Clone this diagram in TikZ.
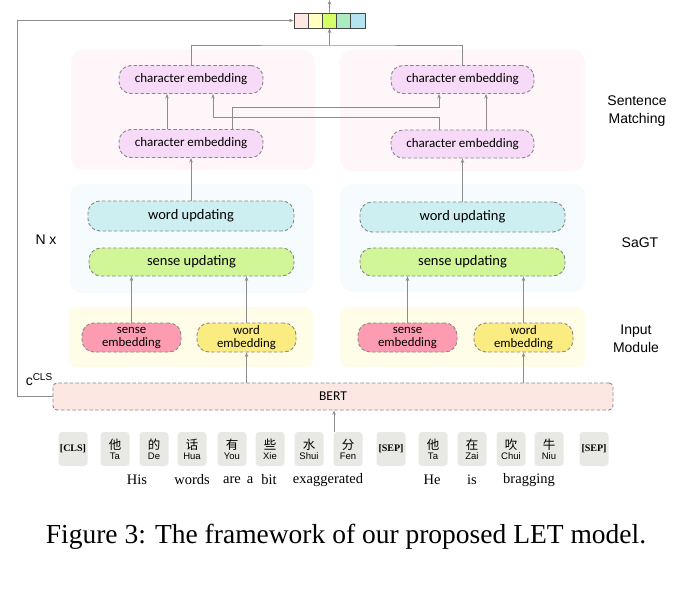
\documentclass[tikz,border=0pt]{standalone}
\usepackage{fontspec}
\setmainfont{Liberation Serif}
\newfontfamily\cjk{Noto Sans CJK SC}
\newfontfamily\calib{Carlito}
\newfontfamily\helv{Liberation Sans}
\usetikzlibrary{arrows.meta}

\definecolor{linegray}{RGB}{140,140,140}
\definecolor{dashgray}{RGB}{135,135,135}
\definecolor{vecgray}{RGB}{70,70,70}
\definecolor{charpink}{RGB}{247,218,247}
\definecolor{wordcyan}{RGB}{206,239,242}
\definecolor{senselime}{RGB}{208,246,152}
\definecolor{sensepink}{RGB}{253,156,176}
\definecolor{wordyellow}{RGB}{250,236,128}
\definecolor{bertpink}{RGB}{253,231,226}
\definecolor{tokgray}{RGB}{232,232,229}
\definecolor{smbg}{RGB}{254,246,248}
\definecolor{sagtbg}{RGB}{246,251,253}
\definecolor{inbg}{RGB}{255,253,232}
\definecolor{cellyellow}{RGB}{255,255,192}
\definecolor{celllime}{RGB}{212,255,102}
\definecolor{cellgreen}{RGB}{170,236,192}
\definecolor{cellcyan}{RGB}{180,228,240}

\begin{document}
\begin{tikzpicture}[x=1pt,y=-1pt,
  emb/.style={draw=dashgray, dash pattern=on 3.5pt off 2.2pt, line width=0.9pt,
    rounded corners=12pt, inner sep=0pt, minimum height=28pt, align=center,
    font=\calib\fontsize{13}{13.5}\selectfont},
  conn/.style={draw=linegray, line width=0.9pt, -{Stealth[length=4.5pt,width=3.5pt]}},
  plain/.style={draw=linegray, line width=0.9pt},
  cell/.style={draw=vecgray, line width=0.9pt, minimum width=14.2pt, minimum height=15pt, inner sep=0pt},
  tok/.style={fill=tokgray, rounded corners=3.5pt, minimum width=29pt, minimum height=34pt,
    inner sep=0pt, align=center},
  side/.style={font=\helv\fontsize{14}{18}\selectfont, align=center},
  eng/.style={font=\fontsize{14.5}{16}\selectfont}]
\useasboundingbox (0,0) rectangle (700,607);

% backgrounds
\fill[smbg, rounded corners=12pt] (71,50) rectangle (315,170);
\fill[smbg, rounded corners=12pt] (340,50) rectangle (585,171);
\fill[sagtbg, rounded corners=12pt] (70,184) rectangle (313,293);
\fill[sagtbg, rounded corners=12pt] (340,184) rectangle (585,292);
\fill[inbg, rounded corners=8pt] (69,307) rectangle (313,367);
\fill[inbg, rounded corners=8pt] (340,307) rectangle (585,367);

% output vector
\foreach \i/\col in {1/bertpink, 2/cellyellow, 3/celllime, 4/cellgreen, 5/cellcyan}
  \node[cell, fill=\col] (v\i) at (286.9+14.2*\i,20.5) {};
\coordinate (out) at (329.5,0);

% sentence matching
\node[emb, fill=charpink, minimum width=144pt] (charL2) at (191,79.5) {character embedding};
\node[emb, fill=charpink, minimum width=144pt] (charL1) at (191,143.5) {character embedding};
\node[emb, fill=charpink, minimum width=143pt] (charR2) at (462.5,79.5) {character embedding};
\node[emb, fill=charpink, minimum width=143pt] (charR1) at (462.5,144) {character embedding};

% SaGT
\node[emb, fill=wordcyan, minimum width=206pt, minimum height=30pt, font=\calib\fontsize{14.5}{15}\selectfont] (wordL) at (191,216) {word updating};
\node[emb, fill=wordcyan, minimum width=205pt, minimum height=30pt, font=\calib\fontsize{14.5}{15}\selectfont] (wordR) at (462.5,217) {word updating};
\node[emb, fill=senselime, minimum width=205pt, font=\calib\fontsize{14.5}{15}\selectfont] (senseL) at (191.5,262) {sense updating};
\node[emb, fill=senselime, minimum width=205pt, font=\calib\fontsize{14.5}{15}\selectfont] (senseR) at (462.5,262) {sense updating};

% input module
\node[emb, fill=sensepink, minimum width=99pt, minimum height=29pt, font=\calib\fontsize{12.8}{13}\selectfont] (sembL) at (131.5,337.5) {sense\\embedding};
\node[emb, fill=wordyellow, minimum width=99pt, minimum height=29pt, font=\calib\fontsize{12.8}{13}\selectfont] (wembL) at (246.5,337.5) {word\\embedding};
\node[emb, fill=sensepink, minimum width=99pt, minimum height=29pt, font=\calib\fontsize{12.8}{13}\selectfont] (sembR) at (407.5,337.5) {sense\\embedding};
\node[emb, fill=wordyellow, minimum width=99pt, minimum height=29pt, font=\calib\fontsize{12.8}{13}\selectfont] (wembR) at (523.5,337.5) {word\\embedding};

\node[emb, fill=bertpink, minimum width=560pt, minimum height=27pt, rounded corners=4pt, font=\calib\fontsize{13.5}{14}\selectfont] (bert) at (333,396.5) {BERT};

% side labels
\node[side] (lblsm) at (637,111) {Sentence\\Matching};
\node[side] (lblsagt) at (640,243) {SaGT};
\node[side] (lblin) at (636,339) {Input\\Module};
\node[side] (lbln) at (46,240) {N x};
\node[font=\helv\fontsize{14}{14}\selectfont] (lblcls) at (39,380) {c\raisebox{5pt}{\fontsize{10}{10}\selectfont CLS}};

% tokens
\node[tok, font=\bfseries\fontsize{10}{10}\selectfont] (t1) at (73,449) {[CLS]};
\foreach \i/\x/\c/\p in {2/115/他/Ta, 3/154/的/De, 4/192/话/Hua, 5/232/有/You, 6/270/些/Xie, 7/309/水/Shui, 8/348/分/Fen, 10/433/他/Ta, 11/472/在/Zai, 12/511/吹/Chui, 13/549/牛/Niu}
  \node[tok] (t\i) at (\x,449) {{\cjk\fontsize{12.5}{12.5}\selectfont \c}\\[-2pt]{\helv\fontsize{9.5}{9.5}\selectfont \p}};
\node[tok, font=\bfseries\fontsize{10}{10}\selectfont] (t9) at (391,449) {[SEP]};
\node[tok, font=\bfseries\fontsize{10}{10}\selectfont] (t14) at (594,449) {[SEP]};
\coordinate (inp) at (334,432);

% english gloss
\node[eng] (w1) at (137,480) {His};
\node[eng] (w2) at (192,480) {words};
\node[eng] (w3) at (232,480) {are};
\node[eng] (w4) at (250,480) {a};
\node[eng] (w5) at (269,480) {bit};
\node[eng] (w6) at (328,480) {exaggerated};
\node[eng] (w7) at (432,480) {He};
\node[eng] (w8) at (472,480) {is};
\node[eng] (w9) at (529,480) {bragging};

\node[font=\fontsize{27.5}{30}\selectfont] (caption) at (346,537) {Figure 3: The framework of our proposed LET model.};

% connectors
\coordinate (join) at (329.5,45);
\draw[plain] (charL2.north) |- (join) -| (charR2.north);
\draw[conn] (join) -- (v3.south);
\draw[conn] (v3.north) -- (out);
\coordinate (lc) at (17,20.5);
\draw[conn] (bert.west) -| (lc) -- (v1.west);

\draw[conn] ([xshift=-24pt]charL1.north) -- ([xshift=-24pt]charL2.south);
\draw[conn] ([xshift=23.5pt]charR1.north) -- ([xshift=23.5pt]charR2.south);
\draw[conn] ([xshift=41pt]charL1.north) -- ++(0,-22) -| ([xshift=-23.5pt]charR2.south);
\draw[conn] ([xshift=-23.5pt]charR1.north) -- ++(0,-12.5) -| ([xshift=22pt]charL2.south);

\draw[conn] (wordL.north) -- (charL1.south);
\draw[conn] (wordR.north) -- (charR1.south);

\draw[conn] (sembL.north) -- (sembL.north |- senseL.south);
\draw[conn] (wembL.north) -- (wembL.north |- senseL.south);
\draw[conn] (sembR.north) -- (sembR.north |- senseR.south);
\draw[conn] (wembR.north) -- (wembR.north |- senseR.south);

\draw[conn] (wembL.south |- bert.north) -- (wembL.south);
\draw[conn] (wembR.south |- bert.north) -- (wembR.south);
\draw[conn] (inp) -- (inp |- bert.south);
\end{tikzpicture}
\end{document}
